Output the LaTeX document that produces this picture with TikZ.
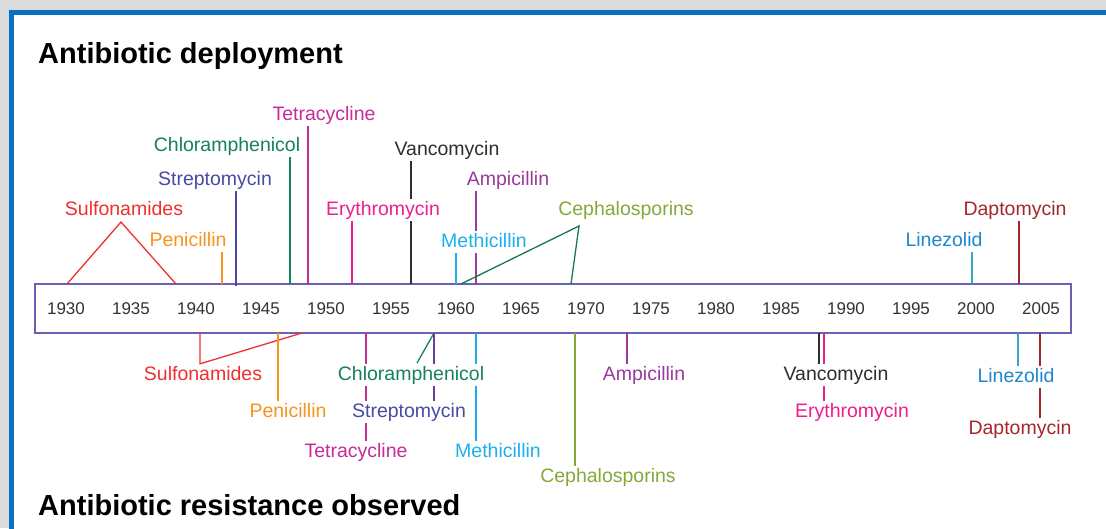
\documentclass[tikz,border=0pt]{standalone}
\usepackage{fontspec}
\setmainfont{Liberation Sans}
\usepackage{tikz}
\usetikzlibrary{positioning,calc}

\definecolor{frameblue}{HTML}{0A70C2}
\definecolor{axisline}{HTML}{6A60B4}
\definecolor{yeartext}{HTML}{333333}
\definecolor{sulfa}{HTML}{EE3030}
\definecolor{penic}{HTML}{F7941D}
\definecolor{strep}{HTML}{4A4AA6}
\definecolor{strepln}{HTML}{6440A0}
\definecolor{chlor}{HTML}{16825A}
\definecolor{tetra}{HTML}{C62C95}
\definecolor{eryth}{HTML}{EE1E8E}
\definecolor{vanco}{HTML}{2E2E2E}
\definecolor{ampic}{HTML}{9A3A9E}
\definecolor{methi}{HTML}{1BB0EC}
\definecolor{cepha}{HTML}{86A83A}
\definecolor{cephtri}{HTML}{17784C}
\definecolor{linez}{HTML}{1F87CC}
\definecolor{linezln}{HTML}{35A8C8}
\definecolor{dapto}{HTML}{A3282E}

\begin{document}
\begin{tikzpicture}[x=1pt, y=-1pt,
    drug/.style={font=\fontsize{19.5}{22}\selectfont, text height=14pt, text depth=4pt, inner sep=2pt},
    yearlbl/.style={font=\fontsize{17}{20}\selectfont, text=yeartext},
    heading/.style={font=\fontsize{29}{34}\selectfont\bfseries, anchor=base west, inner sep=0pt},
    tick/.style={line width=1.3pt}
]
\useasboundingbox (0,0) rectangle (1106,528);
\clip (0,0) rectangle (1106,528);
% panel frame
\fill[gray!28] (0,0) rectangle (1106,528);
\draw[frameblue, line width=5pt, fill=white] (11,12.5) rectangle (1140,560);

\node[heading] (deploy) at (38,63) {Antibiotic deployment};
\node[heading] (resist) at (38,515) {Antibiotic resistance observed};

% time axis
\node[draw=axisline, line width=1.2pt, minimum width=1036pt, minimum height=49pt, inner sep=0pt] (axis) at (553,308.5) {};
\foreach \yr [count=\i from 0] in {1930,1935,...,2005}
    \node[yearlbl] (yr\yr) at (66+65*\i,309) {\yr};

% deployment (above the axis)
\node[drug, text=sulfa] (sulfD) at (124,210) {Sulfonamides};
\node[drug, text=penic] (penD) at (188,241) {Penicillin};
\node[drug, text=strep] (strepD) at (215,180) {Streptomycin};
\node[drug, text=chlor] (chlorD) at (227,146) {Chloramphenicol};
\node[drug, text=tetra] (tetraD) at (324,115) {Tetracycline};
\node[drug, text=eryth] (erythD) at (383,210) {Erythromycin};
\node[drug, text=vanco] (vancD) at (447,150) {Vancomycin};
\node[drug, text=ampic] (ampD) at (508,180) {Ampicillin};
\node[drug, text=methi] (methD) at (484,242) {Methicillin};
\node[drug, text=cepha] (cephD) at (626,210) {Cephalosporins};
\node[drug, text=linez] (linD) at (944,241) {Linezolid};
\node[drug, text=dapto] (daptD) at (1015,210) {Daptomycin};

% resistance (below the axis)
\node[drug, text=sulfa] (sulfR) at (203,375) {Sulfonamides};
\node[drug, text=penic] (penR) at (288,412) {Penicillin};
\node[drug, text=tetra] (tetraR) at (356,452) {Tetracycline};
\node[drug, text=chlor] (chlorR) at (411,375) {Chloramphenicol};
\node[drug, text=strep] (strepR) at (409,412) {Streptomycin};
\node[drug, text=methi] (methR) at (498,452) {Methicillin};
\node[drug, text=cepha] (cephR) at (608,477) {Cephalosporins};
\node[drug, text=ampic] (ampR) at (644,375) {Ampicillin};
\node[drug, text=vanco] (vancR) at (836,375) {Vancomycin};
\node[drug, text=eryth] (erythR) at (852,412) {Erythromycin};
\node[drug, text=linez] (linR) at (1016,377) {Linezolid};
\node[drug, text=dapto] (daptR) at (1020,429) {Daptomycin};

% where the lines meet the axis
\coordinate (sulfDa) at (67,284);
\coordinate (sulfDtip) at (121,222);
\coordinate (sulfDb) at (176,284);
\coordinate (penDx) at (222,284);
\coordinate (strepDx) at (236,286);
\coordinate (chlorDx) at (290,284);
\coordinate (tetraDx) at (308,284);
\coordinate (erythDx) at (352,284);
\coordinate (vancDx) at (411,284);
\coordinate (methDx) at (456,284);
\coordinate (ampDx) at (476,285);
\coordinate (cephDa) at (461,284);
\coordinate (cephDtip) at (579,226);
\coordinate (cephDb) at (571,284);
\coordinate (linDx) at (972,284);
\coordinate (daptDx) at (1019,284);

\coordinate (sulfRa) at (200,333);
\coordinate (sulfRb) at (302,333);
\coordinate (penRx) at (278,333);
\coordinate (tetraRx) at (366,333);
\coordinate (chlorRx) at (434,333);
\coordinate (chlorRtip) at (417,363);
\coordinate (strepRx) at (434,333);
\coordinate (methRx) at (476,333);
\coordinate (cephRx) at (575,333);
\coordinate (ampRx) at (627,333);
\coordinate (vancRx) at (819,333);
\coordinate (erythRx) at (824,333);
\coordinate (linRx) at (1018,333);
\coordinate (daptRx) at (1040,333);

% deployment lines
\draw[tick, sulfa] (sulfDa) -- (sulfDtip) -- (sulfDb);
\draw[tick, penic] (penD.south -| penDx) -- (penDx);
\draw[tick, strep] (strepD.south -| strepDx) -- (strepDx);
\draw[tick, chlor] (chlorD.south -| chlorDx) -- (chlorDx);
\draw[tick, tetra] (tetraD.south -| tetraDx) -- (tetraDx);
\draw[tick, eryth] (erythD.south -| erythDx) -- (erythDx);
\draw[tick, vanco] (vancD.south -| vancDx) -- (erythD.north -| vancDx)
    (erythD.south -| vancDx) -- (vancDx);
\draw[tick, ampic] (ampD.south -| ampDx) -- (methD.north -| ampDx)
    (methD.south -| ampDx) -- (ampDx);
\draw[tick, methi] (methD.south -| methDx) -- (methDx);
\draw[tick, cephtri] (cephDa) -- (cephDtip) -- (cephDb);
\draw[tick, linezln] (linD.south -| linDx) -- (linDx);
\draw[tick, dapto] (daptD.south -| daptDx) -- (daptDx);

% resistance lines
\draw[tick, sulfa] (sulfRa) -- (sulfR.north -| sulfRa) -- (sulfRb);
\draw[tick, penic] (penRx) -- (penR.north -| penRx);
\draw[tick, tetra] (tetraRx) -- (chlorR.north -| tetraRx)
    (chlorR.south -| tetraRx) -- (strepR.north -| tetraRx)
    (strepR.south -| tetraRx) -- (tetraR.north -| tetraRx);
\draw[tick, chlor] (chlorRx) -- (chlorRtip);
\draw[tick, strepln] (strepRx) -- (chlorR.north -| strepRx)
    (chlorR.south -| strepRx) -- (strepR.north -| strepRx);
\draw[tick, methi] (methRx) -- (chlorR.north -| methRx)
    (chlorR.south -| methRx) -- (methR.north -| methRx);
\draw[tick, cepha] (cephRx) -- (cephR.north -| cephRx);
\draw[tick, ampic] (ampRx) -- (ampR.north -| ampRx);
\draw[tick, vanco] (vancRx) -- (vancR.north -| vancRx);
\draw[tick, eryth] (erythRx) -- (vancR.north -| erythRx)
    (vancR.south -| erythRx) -- (erythR.north -| erythRx);
\draw[tick, linezln] (linRx) -- (linR.north -| linRx);
\draw[tick, dapto] (daptRx) -- (linR.north -| daptRx)
    (linR.south -| daptRx) -- (daptR.north -| daptRx);
\end{tikzpicture}
\end{document}
